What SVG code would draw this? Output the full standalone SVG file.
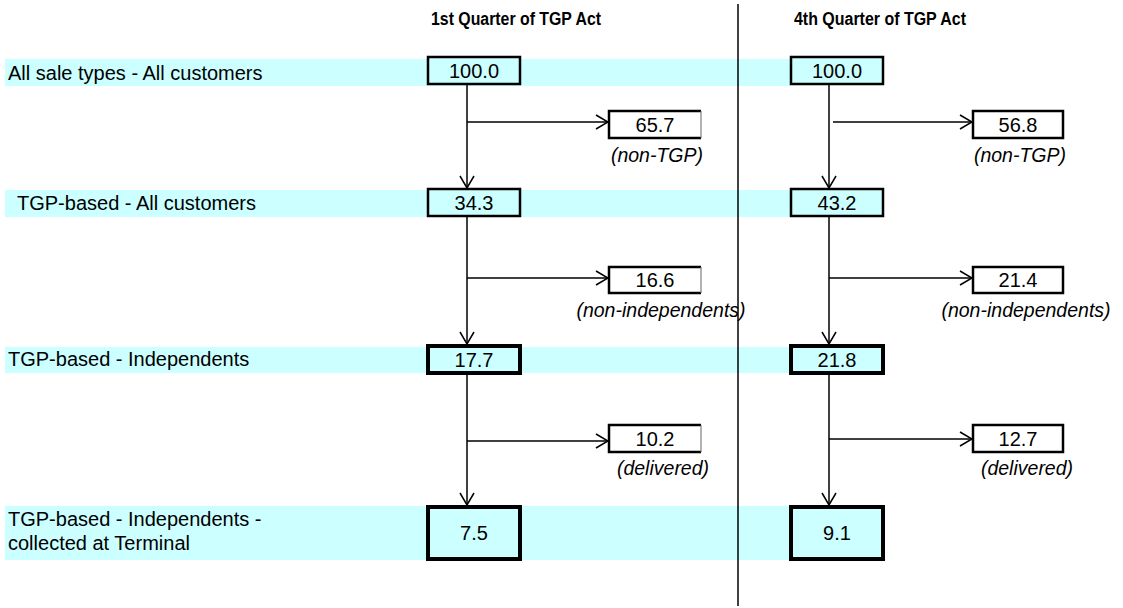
<svg xmlns="http://www.w3.org/2000/svg" width="1123" height="608" viewBox="0 0 1123 608">
<style>
  text { font-family: "Liberation Sans", Arial, sans-serif; fill: #000; }
  .hdr { font-size: 17.5px; font-weight: bold; text-anchor: middle; }
  .row { font-size: 20px; }
  .num { font-size: 20px; text-anchor: middle; }
  .note { font-size: 19.5px; font-style: italic; text-anchor: middle; }
  .band { fill: #CCFFFF; stroke: none; }
  .box { fill: #CCFFFF; stroke: #000; stroke-width: 2.5; }
  .boxb { fill: #CCFFFF; stroke: #000; stroke-width: 4; }
  .wbox { fill: #FFFFFF; stroke: none; }
  .edge { fill: none; stroke: #000; stroke-width: 2.5; }
  .thin { fill: none; stroke: #666; stroke-width: 1; }
  .conn { fill: none; stroke: #000; stroke-width: 1.5; }
</style>
<defs>
  <marker id="arr" viewBox="0 0 14 16" refX="13" refY="8" markerWidth="14" markerHeight="16" markerUnits="userSpaceOnUse" orient="auto">
    <path d="M1,1 L13,8 L1,15" fill="none" stroke="#000" stroke-width="1.5"/>
  </marker>
</defs>
<rect width="1123" height="608" fill="#FFFFFF"/>

<g id="bands">
  <rect class="band" x="5" y="59" width="786" height="27"/>
  <rect class="band" x="5" y="190" width="786" height="27"/>
  <rect class="band" x="5" y="347" width="786" height="26"/>
  <rect class="band" x="5" y="506" width="786" height="54"/>
</g>

<g id="row-labels">
  <text class="row" x="8" y="80">All sale types - All customers</text>
  <text class="row" x="17" y="210">TGP-based - All customers</text>
  <text class="row" x="8" y="366">TGP-based - Independents</text>
  <text class="row" x="8" y="526">TGP-based - Independents -</text>
  <text class="row" x="8" y="550">collected at Terminal</text>
</g>

<g id="headers">
  <text class="hdr" x="516" y="25" textLength="170" lengthAdjust="spacingAndGlyphs">1st Quarter of TGP Act</text>
  <text class="hdr" x="880" y="25" textLength="172" lengthAdjust="spacingAndGlyphs">4th Quarter of TGP Act</text>
</g>

<g id="divider">
  <line x1="738" y1="4" x2="738" y2="606" stroke="#000" stroke-width="1.5"/>
</g>

<g id="connectors">
  <line class="conn" x1="467" y1="85" x2="467" y2="188" marker-end="url(#arr)"/>
  <line class="conn" x1="467" y1="217" x2="467" y2="344" marker-end="url(#arr)"/>
  <line class="conn" x1="467" y1="375" x2="467" y2="505" marker-end="url(#arr)"/>
  <line class="conn" x1="467" y1="122" x2="608" y2="122" marker-end="url(#arr)"/>
  <line class="conn" x1="467" y1="278" x2="608" y2="278" marker-end="url(#arr)"/>
  <line class="conn" x1="467" y1="441" x2="608" y2="441" marker-end="url(#arr)"/>
  <line class="conn" x1="829" y1="85" x2="829" y2="188" marker-end="url(#arr)"/>
  <line class="conn" x1="829" y1="217" x2="829" y2="344" marker-end="url(#arr)"/>
  <line class="conn" x1="829" y1="375" x2="829" y2="505" marker-end="url(#arr)"/>
  <line class="conn" x1="833" y1="122" x2="972" y2="122" marker-end="url(#arr)"/>
  <line class="conn" x1="829" y1="278" x2="972" y2="278" marker-end="url(#arr)"/>
  <line class="conn" x1="829" y1="439" x2="972" y2="439" marker-end="url(#arr)"/>
</g>

<g id="q1-all">
  <rect class="box" x="428" y="57" width="92" height="27"/>
  <text class="num" x="474" y="78">100.0</text>
</g>
<g id="q1-nontgp">
  <rect class="wbox" x="609" y="111" width="92" height="27"/>
  <path class="edge" d="M701,111 H609 V138 H701"/>
  <line class="thin" x1="701" y1="111" x2="701" y2="138"/>
  <text class="num" x="655" y="132">65.7</text>
  <text class="note" x="657" y="162">(non-TGP)</text>
</g>
<g id="q1-tgp">
  <rect class="box" x="428" y="189" width="92" height="27"/>
  <text class="num" x="474" y="210">34.3</text>
</g>
<g id="q1-nonind">
  <rect class="wbox" x="609" y="267" width="92" height="26"/>
  <path class="edge" d="M701,267 H609 V293 H701"/>
  <line class="thin" x1="701" y1="267" x2="701" y2="293"/>
  <text class="num" x="655" y="287">16.6</text>
  <text class="note" x="661" y="317">(non-independents)</text>
</g>
<g id="q1-ind">
  <rect class="boxb" x="428" y="346" width="92" height="27"/>
  <text class="num" x="474" y="367">17.7</text>
</g>
<g id="q1-deliv">
  <rect class="wbox" x="609" y="425" width="92" height="27"/>
  <path class="edge" d="M701,425 H609 V452 H701"/>
  <line class="thin" x1="701" y1="425" x2="701" y2="452"/>
  <text class="num" x="655" y="446">10.2</text>
  <text class="note" x="663" y="475">(delivered)</text>
</g>
<g id="q1-terminal">
  <rect class="boxb" x="428" y="507" width="92" height="52"/>
  <text class="num" x="474" y="540">7.5</text>
</g>

<g id="q4-all">
  <rect class="box" x="791" y="57" width="92" height="27"/>
  <text class="num" x="837" y="78">100.0</text>
</g>
<g id="q4-nontgp">
  <rect class="wbox" x="973" y="111" width="90" height="27"/>
  <rect class="edge" x="973" y="111" width="90" height="27"/>
  <text class="num" x="1018" y="132">56.8</text>
  <text class="note" x="1020" y="162">(non-TGP)</text>
</g>
<g id="q4-tgp">
  <rect class="box" x="791" y="189" width="92" height="27"/>
  <text class="num" x="837" y="210">43.2</text>
</g>
<g id="q4-nonind">
  <rect class="wbox" x="973" y="267" width="90" height="26"/>
  <rect class="edge" x="973" y="267" width="90" height="26"/>
  <text class="num" x="1018" y="287">21.4</text>
  <text class="note" x="1026" y="317">(non-independents)</text>
</g>
<g id="q4-ind">
  <rect class="boxb" x="791" y="346" width="92" height="27"/>
  <text class="num" x="837" y="367">21.8</text>
</g>
<g id="q4-deliv">
  <rect class="wbox" x="973" y="425" width="90" height="27"/>
  <rect class="edge" x="973" y="425" width="90" height="27"/>
  <text class="num" x="1018" y="446">12.7</text>
  <text class="note" x="1027" y="475">(delivered)</text>
</g>
<g id="q4-terminal">
  <rect class="boxb" x="791" y="507" width="92" height="52"/>
  <text class="num" x="837" y="540">9.1</text>
</g>
</svg>
